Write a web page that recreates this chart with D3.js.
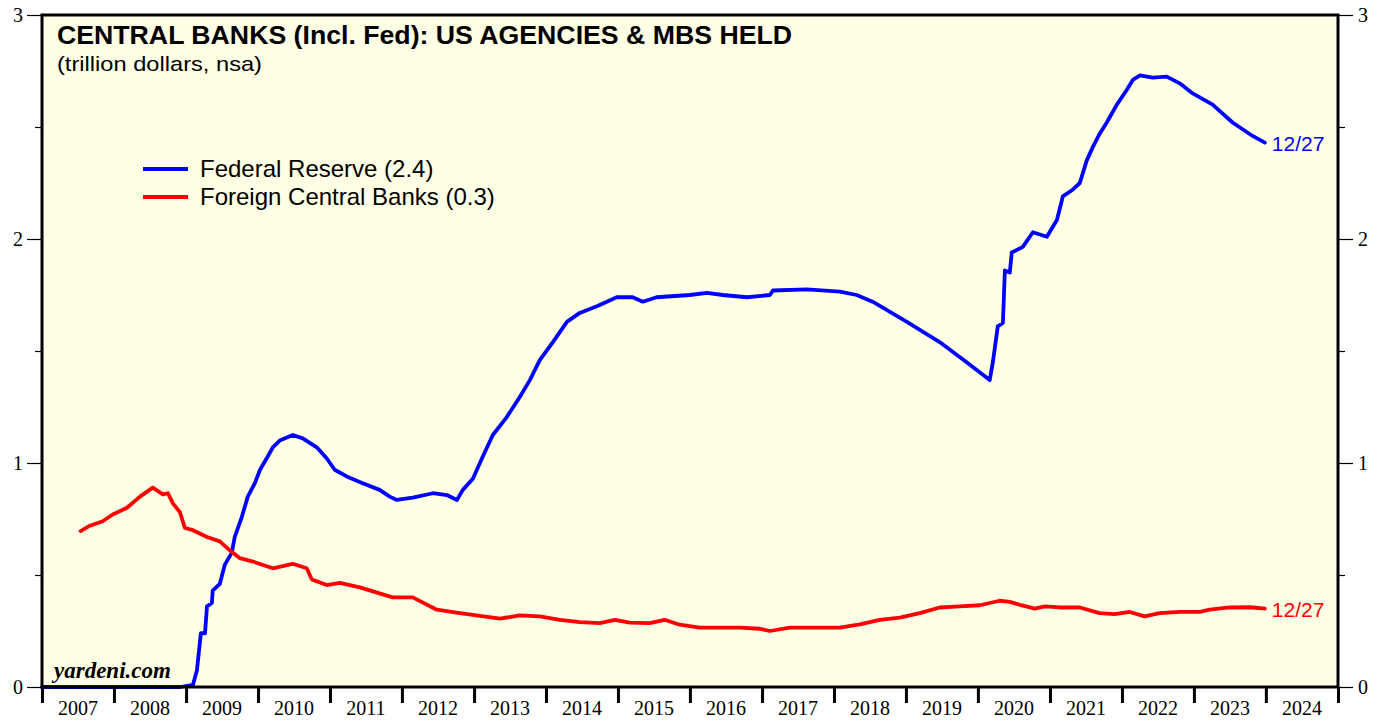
<!DOCTYPE html>
<html>
<head>
<meta charset="utf-8">
<script src="https://cdn.jsdelivr.net/npm/d3@7"></script>
<style>
    body { margin: 0; background: #ffffff; }
    svg { display: block; }
</style>
</head>
<body>
<svg id="chart"></svg>
<script>
// ////////////////////////////////////////////////////////////////
// Central banks: US agencies & MBS held
// ////////////////////////////////////////////////////////////////

// Federal Reserve (trillion dollars)
const fed_dates = [
    '2007-01-01', '2008-12-01', '2009-02-05', '2009-02-25', '2009-03-17', '2009-04-07',
    '2009-04-17', '2009-05-12', '2009-05-16', '2009-06-21', '2009-07-16', '2009-08-21',
    '2009-09-05', '2009-10-11', '2009-11-10', '2009-12-16', '2010-01-11', '2010-02-20',
    '2010-03-17', '2010-04-21', '2010-06-26', '2010-08-16', '2010-10-26', '2010-12-16',
    '2011-01-25', '2011-03-27', '2011-06-16', '2011-09-10', '2011-10-31', '2011-12-06',
    '2012-02-25', '2012-06-06', '2012-08-16', '2012-10-06', '2012-11-05', '2012-12-26',
    '2013-02-15', '2013-04-06', '2013-06-16', '2013-08-21', '2013-10-11', '2013-12-01',
    '2014-02-05', '2014-04-17', '2014-06-21', '2014-09-16', '2014-12-26', '2015-03-17',
    '2015-05-07', '2015-07-16', '2016-01-01', '2016-03-27', '2016-06-16', '2016-10-16',
    '2017-02-10', '2017-02-25', '2017-08-16', '2018-01-31', '2018-04-26', '2018-07-16',
    '2019-01-06', '2019-06-21', '2019-11-05', '2020-03-01', '2020-03-17', '2020-04-11',
    '2020-05-07', '2020-05-17', '2020-06-11', '2020-06-21', '2020-08-16', '2020-10-06',
    '2020-12-16', '2021-02-05', '2021-03-07', '2021-04-26', '2021-06-01', '2021-07-06',
    '2021-08-06', '2021-09-10', '2021-10-16', '2021-12-06', '2022-01-25', '2022-02-25',
    '2022-04-01', '2022-06-06', '2022-08-16', '2022-10-21', '2022-12-26', '2023-04-06',
    '2023-07-16', '2023-10-26', '2023-12-27'
];
const fed_values = [
    0, 0, 0.01, 0.075, 0.24, 0.24,
    0.36, 0.375, 0.43, 0.46, 0.545, 0.60,
    0.67, 0.76, 0.85, 0.91, 0.97, 1.03,
    1.07, 1.10, 1.125, 1.11, 1.07, 1.02,
    0.97, 0.94, 0.91, 0.88, 0.85, 0.835,
    0.845, 0.865, 0.857, 0.835, 0.88, 0.93,
    1.03, 1.125, 1.205, 1.295, 1.37, 1.46,
    1.54, 1.63, 1.67, 1.70, 1.74, 1.74,
    1.72, 1.74, 1.75, 1.76, 1.75, 1.74,
    1.75, 1.77, 1.775, 1.765, 1.75, 1.72,
    1.63, 1.54, 1.45, 1.37, 1.45, 1.61,
    1.625, 1.86, 1.85, 1.94, 1.965, 2.03,
    2.01, 2.085, 2.19, 2.22, 2.25, 2.35,
    2.41, 2.47, 2.52, 2.60, 2.665, 2.71,
    2.73, 2.72, 2.725, 2.695, 2.65, 2.60,
    2.52, 2.46, 2.43
];

// Foreign central banks (trillion dollars)
const foreign_dates = [
    '2007-07-16', '2007-09-01', '2007-11-05', '2007-12-26', '2008-03-07', '2008-05-12',
    '2008-07-16', '2008-09-05', '2008-10-01', '2008-10-26', '2008-12-01', '2008-12-26',
    '2009-02-05', '2009-04-17', '2009-06-21', '2009-08-11', '2009-10-01', '2009-12-06',
    '2010-03-17', '2010-06-26', '2010-09-05', '2010-10-01', '2010-12-16', '2011-02-20',
    '2011-06-01', '2011-11-15', '2012-02-25', '2012-06-26', '2012-10-21', '2013-04-06',
    '2013-05-12', '2013-08-21', '2013-12-01', '2014-03-12', '2014-06-21', '2014-10-01',
    '2014-12-16', '2015-03-02', '2015-06-11', '2015-08-26', '2015-11-10', '2016-02-20',
    '2016-06-01', '2016-09-10', '2016-12-21', '2017-02-10', '2017-05-22', '2017-10-21',
    '2018-01-31', '2018-05-12', '2018-08-21', '2018-12-01', '2019-03-12', '2019-06-21',
    '2019-10-01', '2020-01-11', '2020-03-01', '2020-04-21', '2020-06-11', '2020-08-01',
    '2020-10-16', '2020-12-06', '2021-02-20', '2021-06-01', '2021-09-10', '2021-11-25',
    '2022-02-10', '2022-04-26', '2022-07-11', '2022-10-21', '2023-01-31', '2023-03-22',
    '2023-07-01', '2023-10-11', '2023-12-27'
];
const foreign_values = [
    0.696, 0.72, 0.74, 0.77, 0.80, 0.85,
    0.89, 0.86, 0.865, 0.82, 0.78, 0.71,
    0.70, 0.67, 0.65, 0.61, 0.575, 0.56,
    0.53, 0.55, 0.53, 0.48, 0.455, 0.465,
    0.445, 0.40, 0.40, 0.345, 0.33, 0.31,
    0.305, 0.32, 0.315, 0.30, 0.29, 0.285,
    0.30, 0.287, 0.285, 0.30, 0.278, 0.265,
    0.265, 0.265, 0.26, 0.25, 0.265, 0.265,
    0.265, 0.28, 0.30, 0.31, 0.33, 0.355,
    0.36, 0.365, 0.375, 0.385, 0.38, 0.367,
    0.35, 0.36, 0.355, 0.355, 0.33, 0.325,
    0.335, 0.315, 0.33, 0.335, 0.335, 0.345,
    0.355, 0.356, 0.35
];

const year_labels = ['2007', '2008', '2009', '2010', '2011', '2012', '2013', '2014', '2015',
                     '2016', '2017', '2018', '2019', '2020', '2021', '2022', '2023', '2024'];
const y_major_ticks = [0, 1, 2, 3];
const y_minor_ticks = [0.5, 1.5, 2.5];

const series = [
    { code: 'fed', name: 'Federal Reserve (2.4)', color: '#0000ff', dates: fed_dates, values: fed_values, label: '12/27' },
    { code: 'foreign', name: 'Foreign Central Banks (0.3)', color: '#ff0000', dates: foreign_dates, values: foreign_values, label: '12/27' },
];

class ChartSketcher {
    constructor (options) {
        this._options = options;
        this._m = { left: 42, right: 1338, top: 15, bottom: 687 };
    }
    makeScales () {
        let m = this._m;
        this._x = d3.scaleTime()
            .domain([new Date(2007, 0, 1), new Date(2025, 0, 1)])
            .range([m.left, m.right]);
        this._y = d3.scaleLinear()
            .domain([0, 3])
            .range([m.bottom, m.top]);
    }
    drawBackground (svg) {
        let m = this._m;
        svg.append('rect')
            .attr('x', m.left).attr('y', m.top)
            .attr('width', m.right - m.left).attr('height', m.bottom - m.top)
            .attr('fill', '#ffffe6');
    }
    drawYAxes (svg) {
        let y = this._y;
        let m = this._m;
        let font = '"Liberation Serif", "Times New Roman", serif';

        let left = svg.append('g').attr('transform', `translate(${m.left},0)`)
            .call(d3.axisLeft(y).tickValues(y_major_ticks).tickSize(15).tickPadding(4).tickFormat(d3.format('d')));
        let right = svg.append('g').attr('transform', `translate(${m.right},0)`)
            .call(d3.axisRight(y).tickValues(y_major_ticks).tickSize(15).tickPadding(5).tickFormat(d3.format('d')));
        let left_minor = svg.append('g').attr('transform', `translate(${m.left},0)`)
            .call(d3.axisLeft(y).tickValues(y_minor_ticks).tickSize(7).tickFormat(''));
        let right_minor = svg.append('g').attr('transform', `translate(${m.right},0)`)
            .call(d3.axisRight(y).tickValues(y_minor_ticks).tickSize(7).tickFormat(''));

        for (let g of [left, right, left_minor, right_minor]) {
            g.select('.domain').remove();
            g.selectAll('line').attr('stroke', '#000').attr('stroke-width', 1.2);
            g.selectAll('text')
                .attr('font-family', font)
                .attr('font-size', 20)
                .attr('fill', '#000');
        }
    }
    drawXAxis (svg) {
        let x = this._x;
        let m = this._m;
        let years = year_labels.map((d) => new Date(+d, 0, 1));
        years.push(new Date(2025, 0, 1));

        let axis = svg.append('g').attr('transform', `translate(0,${m.bottom})`)
            .call(d3.axisBottom(x).tickValues(years).tickSize(16).tickFormat(''));
        axis.select('.domain').remove();
        axis.selectAll('line').attr('stroke', '#000').attr('stroke-width', 3);

        svg.selectAll('text.year')
            .data(year_labels)
            .enter()
            .append('text')
            .attr('class', 'year')
            .attr('x', (d) => (x(new Date(+d, 0, 1)) + x(new Date(+d + 1, 0, 1))) / 2)
            .attr('y', 715)
            .attr('text-anchor', 'middle')
            .attr('font-family', '"Liberation Serif", "Times New Roman", serif')
            .attr('font-size', 20)
            .text((d) => d);
    }
    drawLines (svg) {
        let x = this._x;
        let y = this._y;
        let parse = d3.timeParse('%Y-%m-%d');

        let line = d3.line()
            .x((d) => x(d.date))
            .y((d) => y(d.value));

        for (let s of series) {
            let data = s.dates.map((d, i) => ({ date: parse(d), value: s.values[i] }));
            svg.append('path')
                .datum(data)
                .attr('class', 'line ' + s.code)
                .attr('d', line)
                .attr('fill', 'none')
                .attr('stroke', s.color)
                .attr('stroke-width', 3.8)
                .attr('stroke-linejoin', 'round')
                .attr('stroke-linecap', 'round');

            let last = data[data.length - 1];
            svg.append('text')
                .attr('x', x(last.date) + 7)
                .attr('y', y(last.value) + 8)
                .attr('font-family', '"Liberation Sans", Arial, sans-serif')
                .attr('font-size', 21)
                .attr('fill', s.color)
                .text(s.label);
        }
    }
    drawFrame (svg) {
        let m = this._m;
        svg.append('rect')
            .attr('x', m.left).attr('y', m.top)
            .attr('width', m.right - m.left).attr('height', m.bottom - m.top)
            .attr('fill', 'none')
            .attr('stroke', '#000')
            .attr('stroke-width', 3);
    }
    drawTexts (svg) {
        let sans = '"Liberation Sans", Arial, sans-serif';

        svg.append('text')
            .attr('x', 57).attr('y', 44)
            .attr('font-family', sans).attr('font-size', 26.5).attr('font-weight', 'bold')
            .attr('textLength', 735).attr('lengthAdjust', 'spacingAndGlyphs')
            .text('CENTRAL BANKS (Incl. Fed): US AGENCIES & MBS HELD');
        svg.append('text')
            .attr('x', 57).attr('y', 71)
            .attr('font-family', sans).attr('font-size', 21)
            .attr('textLength', 205).attr('lengthAdjust', 'spacingAndGlyphs')
            .text('(trillion dollars, nsa)');

        let legend = svg.append('g').attr('class', 'legend');
        series.forEach((s, i) => {
            let ly = 169 + i * 28;
            legend.append('line')
                .attr('x1', 143).attr('x2', 188)
                .attr('y1', ly).attr('y2', ly)
                .attr('stroke', s.color).attr('stroke-width', 4);
            legend.append('text')
                .attr('x', 200).attr('y', ly + 8)
                .attr('font-family', sans).attr('font-size', 24)
                .text(s.name);
        });

        svg.append('text')
            .attr('x', 54).attr('y', 678)
            .attr('font-family', '"Liberation Serif", "Times New Roman", serif')
            .attr('font-size', 23).attr('font-weight', 'bold').attr('font-style', 'italic')
            .text('yardeni.com');
    }
    draw () {
        let svg = d3.select(this._options.selector)
            .attr('width', 1382)
            .attr('height', 721);

        this.makeScales();
        this.drawBackground(svg);
        this.drawTexts(svg);
        this.drawLines(svg);
        this.drawFrame(svg);
        this.drawYAxes(svg);
        this.drawXAxis(svg);
        return this;
    }
}

new ChartSketcher({ selector: '#chart' }).draw();
</script>
</body>
</html>
